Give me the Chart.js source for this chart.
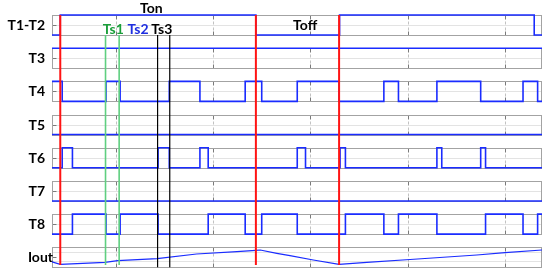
<!DOCTYPE html>
<html>
<head>
<meta charset="utf-8">
<script src="https://cdn.jsdelivr.net/npm/chart.js@4.4.1/dist/chart.umd.min.js"></script>
<style>
  html, body { margin: 0; padding: 0; background: #fff; }
  #wrap { position: relative; width: 550px; height: 274px; }
</style>
</head>
<body>
<div id="wrap"><canvas id="timing"></canvas></div>
<script>
// Rows, top to bottom
const rowNames = ['T1-T2', 'T3', 'T4', 'T5', 'T6', 'T7', 'T8', 'Iout'];

// Time axis (grid every 10 units)
const xMin = -6.55;
const xMax = 43.8;
const gridTimes = [0, 10, 20, 30, 40];

// Gate signals: edge times and the level after each edge
const t12Times = [-6.55, -5.7, 14.4, 23.0, 43.0];
const t12Levels = [0, 1, 0, 1, 0];
const t3Times = [-6.55];
const t3Levels = [1];
const t4Times = [-6.55, -5.5, -1.0, 0.45, 5.5, 8.65, 13.3, 15.0, 18.65, 22.95, 27.55, 29.05, 33.0, 37.5, 41.85, 43.35];
const t4Levels = [1, 0, 1, 0, 1, 0, 1, 0, 1, 0, 1, 0, 1, 0, 1, 0];
const t5Times = [-6.55];
const t5Levels = [0];
const t6Times = [-6.55, -5.5, -4.45, 4.35, 5.5, 8.65, 9.5, 18.65, 19.5, 23.05, 23.6, 33.0, 33.5, 37.5, 38.0];
const t6Levels = [0, 1, 0, 1, 0, 1, 0, 1, 0, 1, 0, 1, 0, 1, 0];
const t7Times = [-6.55];
const t7Levels = [0];
const t8Times = [-6.55, -4.45, -1.0, 0.45, 4.35, 9.5, 13.3, 15.0, 18.65, 23.6, 27.55, 29.05, 33.0, 38.0, 41.85, 43.35];
const t8Levels = [0, 1, 0, 1, 0, 1, 0, 1, 0, 1, 0, 1, 0, 1, 0, 1];

// Output current (normalised to its row)
const ioutTimes = [-6.55, -5.7, -1.1, 0.2, 4.25, 8.3, 12.45, 14.4, 14.85, 16.55, 17.9, 20.3, 22.95, 25.8, 30.25, 37.1, 40.0, 43.8];
const ioutValues = [0.27, 0.15, 0.25, 0.33, 0.43, 0.665, 0.78, 0.85, 0.865, 0.70, 0.58, 0.365, 0.15, 0.25, 0.39, 0.615, 0.73, 0.865];

// Marker instants
const redTimes = [-5.7, 14.4, 22.95];
const greenTimes = [-1.05, 0.35];
const blackTimes = [4.3, 5.55];

const phaseLabels = ['Ton', 'Toff'];
const instantLabels = ['Ts1', 'Ts2', 'Ts3'];

// Layout of the stacked rows on one y scale
const rowPitch = 1.66;
const rowBase = (k) => (rowNames.length - 1 - k) * rowPitch;
const yTop = rowBase(0) + 1;

const BLUE = '#1a2cff';
const FONT = 'bold 14px Lato';

function stepData(times, levels, k) {
  const b = rowBase(k);
  const pts = times.map((t, i) => ({ x: t, y: b + levels[i] }));
  pts.push({ x: xMax, y: b + levels[levels.length - 1] });
  return pts;
}

function vLines(times, from, to) {
  const pts = [];
  times.forEach(t => {
    pts.push({ x: t, y: from }, { x: t, y: to }, { x: t, y: null });
  });
  return pts;
}

const signals = [
  [t12Times, t12Levels], [t3Times, t3Levels], [t4Times, t4Levels], [t5Times, t5Levels],
  [t6Times, t6Levels], [t7Times, t7Levels], [t8Times, t8Levels]
];

const datasets = [
  { label: 'red', data: vLines(redTimes, yTop, 0.11), borderColor: '#ff1414', borderWidth: 2, order: 0 },
  { label: 'green', data: vLines(greenTimes, rowBase(0), 0.11), borderColor: '#5fcf80', borderWidth: 1.6, order: 0 },
  { label: 'black', data: vLines(blackTimes, rowBase(0), 0), borderColor: '#000', borderWidth: 1.2, order: 0 }
];

signals.forEach(([times, levels], k) => {
  datasets.push({
    label: rowNames[k],
    data: stepData(times, levels, k),
    stepped: 'before',
    borderColor: BLUE,
    borderWidth: 1.6,
    order: 1
  });
});

datasets.push({
  label: 'Iout',
  data: ioutTimes.map((t, i) => ({ x: t, y: rowBase(7) + ioutValues[i] })),
  borderColor: BLUE,
  borderWidth: 1.2,
  order: 1
});

datasets.forEach(d => { d.clip = 6; d.fill = false; });

function seg(ctx, x1, y1, x2, y2) {
  ctx.beginPath();
  ctx.moveTo(x1, y1);
  ctx.lineTo(x2, y2);
  ctx.stroke();
}

// Row boxes, grid, ticks and row names
const rowFrames = {
  id: 'rowFrames',
  beforeDatasetsDraw(chart) {
    const { ctx, chartArea: a, scales: { x, y } } = chart;
    const L = Math.round(a.left) + 0.5, R = Math.round(a.right) - 0.5;
    ctx.save();
    rowNames.forEach((name, k) => {
      const b = rowBase(k);
      const top = Math.round(y.getPixelForValue(b + 1)) + 0.5;
      const bot = Math.round(y.getPixelForValue(b)) + 0.5;
      const mid = Math.round(y.getPixelForValue(b + 0.5)) + 0.5;
      ctx.lineWidth = 1;

      ctx.strokeStyle = '#e3e3e3';
      const mids = name === 'Iout' ? [0.3, 0.75] : [0.5];
      mids.forEach(m => {
        const py = Math.round(y.getPixelForValue(b + m)) + 0.5;
        seg(ctx, L, py, R, py);
      });

      ctx.strokeStyle = '#c2c2c2';
      ctx.setLineDash([3, 3]);
      gridTimes.forEach(t => {
        const px = Math.round(x.getPixelForValue(t)) + 0.5;
        seg(ctx, px, top, px, bot);
      });
      ctx.setLineDash([]);

      ctx.strokeStyle = '#7a7a7a';
      gridTimes.forEach(t => {
        const px = Math.round(x.getPixelForValue(t)) + 0.5;
        seg(ctx, px, top, px, top + 4);
        seg(ctx, px, bot - 4, px, bot);
      });
      seg(ctx, L, mid, L + 4, mid);

      ctx.strokeStyle = '#a3a3a3';
      ctx.strokeRect(L, top, R - L, bot - top);

      ctx.fillStyle = '#000';
      ctx.font = FONT;
      ctx.textAlign = 'right';
      ctx.textBaseline = 'middle';
      ctx.fillText(name, name === 'Iout' ? a.left + 1 : a.left - 7, (top + bot) / 2);
    });
    ctx.restore();
  }
};

// Phase and instant annotations
const annotations = {
  id: 'annotations',
  afterDatasetsDraw(chart) {
    const { ctx, scales: { x, y } } = chart;
    ctx.save();
    ctx.font = FONT;
    ctx.textAlign = 'center';
    ctx.textBaseline = 'middle';
    const place = [
      [phaseLabels[0], 3.66, yTop + 0.35, '#000'],
      [phaseLabels[1], 19.46, rowBase(0) + 0.5, '#000'],
      [instantLabels[0], -0.25, rowBase(0) + 0.28, '#1a9e3a'],
      [instantLabels[1], 2.29, rowBase(0) + 0.28, '#1f2fe0'],
      [instantLabels[2], 4.73, rowBase(0) + 0.28, '#000']
    ];
    place.forEach(([txt, tx, ty, col]) => {
      ctx.fillStyle = col;
      ctx.fillText(txt, x.getPixelForValue(tx), y.getPixelForValue(ty));
    });
    ctx.restore();
  }
};

new Chart(document.getElementById('timing'), {
  type: 'line',
  data: { datasets },
  options: {
    responsive: true,
    maintainAspectRatio: false,
    animation: false,
    layout: { padding: { left: 52, right: 8, top: 15, bottom: 6.7 } },
    elements: { point: { radius: 0 }, line: { tension: 0 } },
    scales: {
      x: { type: 'linear', min: xMin, max: xMax, display: false },
      y: { type: 'linear', min: 0, max: yTop, display: false }
    },
    plugins: { legend: { display: false }, tooltip: { enabled: false } }
  },
  plugins: [rowFrames, annotations]
});
</script>
</body>
</html>
